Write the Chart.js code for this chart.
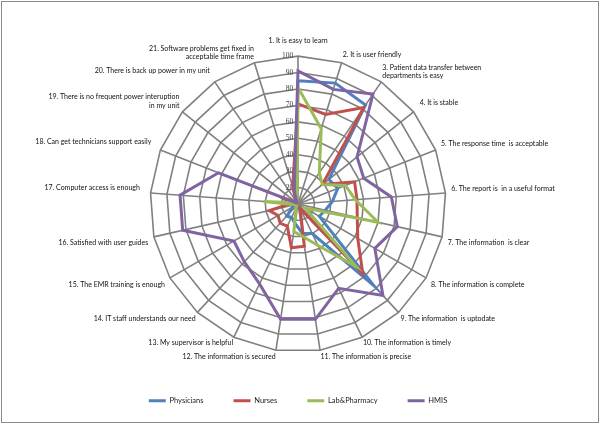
<!DOCTYPE html>
<html>
<head>
<meta charset="utf-8">
<script src="https://cdn.jsdelivr.net/npm/chart.js@4/dist/chart.umd.min.js"></script>
<style>
  html, body { margin: 0; padding: 0; background: #fff; }
  #wrap { position: relative; width: 600px; height: 424px; }
  #frame { position: absolute; left: 1px; top: 1px; width: 596px; height: 420px; border: 1px solid #8c8c8c; pointer-events: none; }
</style>
</head>
<body>
<div id="wrap">
  <canvas id="radarChart" width="600" height="424"></canvas>
  <div id="frame"></div>
</div>
<script>
const categories = [
  '1. It is easy to learn',
  '2. It is user friendly',
  ['3. Patient data transfer between', 'departments is easy'],
  '4. It is stable',
  '5. The response time  is acceptable',
  '6. The report is  in a useful format',
  '7. The information  is clear',
  '8. The information is complete',
  '9. The information  is uptodate',
  '10. The information is timely',
  '11. The information is precise',
  '12. The information is secured',
  '13. My supervisor is helpful',
  '14. IT staff understands our need',
  '15. The EMR training is enough',
  '16. Satisfied with user guides',
  '17. Computer access is enough',
  '18. Can get technicians support easily',
  ['19. There is no frequent power interuption', 'in my unit'],
  '20. There is back up power in my unit',
  ['21. Software problems get fixed in', 'acceptable time frame']
];

const physicians  = [85, 87, 83, 34, 36, 31, 27, 25, 78, 30, 28, 22, 19, 20, 14, 13, 12, 12, 11, 11, 14];
const nurses      = [71, 67, 81, 29, 47, 46, 47, 52, 68, 13, 36, 37, 25, 26, 24, 28, 14, 20, 12, 12, 21];
const labPharmacy = [81, 58, 33, 29, 41, 45, 60, 15, 62, 38, 30, 27, 13, 11, 11, 12, 31, 12, 11, 11, 12];
const hmis        = [91, 83, 91, 56, 53, 67, 72, 64, 86, 67, 81, 81, 64, 58, 55, 82, 82, 62, 11, 11, 18];

const tickValues = [10, 20, 30, 40, 50, 60, 70, 80, 90, 100];

// gap between the outer ring and each category label (Excel sits them closer top and bottom)
const labelGap = [5, -2, -4, 2, 0, 0, 0, 0, -3, -4, -3, -3, -4, -3, 0, 0, 5, 4, -2, 3, -4];

function series(label, data, color, order) {
  return {
    label: label,
    data: data,
    borderColor: color,
    backgroundColor: color,
    borderWidth: 3,
    pointRadius: 0,
    pointHoverRadius: 0,
    fill: false,
    tension: 0,
    order: order
  };
}

const ctx = document.getElementById('radarChart').getContext('2d');
const radarChart = new Chart(ctx, {
  type: 'radar',
  data: {
    labels: categories,
    datasets: [
      series('Physicians', physicians, '#4f81bd', 3),
      series('Nurses', nurses, '#c0504d', 2),
      series('Lab&Pharmacy', labPharmacy, '#9bbb59', 1),
      series('HMIS', hmis, '#8064a2', 0)
    ]
  },
  options: {
    responsive: false,
    animation: false,
    layout: {
      padding: { top: 33, bottom: 9.5, left: 0, right: 4 }
    },
    plugins: {
      tooltip: { enabled: false },
      legend: {
        position: 'bottom',
        labels: {
          usePointStyle: true,
          pointStyle: 'line',
          pointStyleWidth: 17,
          padding: 30,
          color: '#222',
          font: { family: 'Lato', size: 7.5 },
          // keep the series order even though HMIS is drawn on top
          sort: (a, b) => a.datasetIndex - b.datasetIndex
        }
      }
    },
    scales: {
      r: {
        min: 10,
        max: 100,
        beginAtZero: false,
        // put a copy of the first tick in front, so the "10" label at the centre is drawn
        afterBuildTicks: scale => {
          scale.ticks = [tickValues[0]].concat(tickValues).map(v => ({ value: v }));
        },
        ticks: {
          stepSize: 10,
          showLabelBackdrop: false,
          color: '#404040',
          font: { family: 'Liberation Serif', size: 7.5 },
          // trailing spaces push the centred text to the left of the axis
          callback: v => String(v) + ' '.repeat(v >= 100 ? 11 : 9)
        },
        grid: { color: '#808080', lineWidth: 1.6 },
        angleLines: { color: '#808080', lineWidth: 1.6 },
        pointLabels: {
          padding: c => labelGap[c.index],
          color: '#111',
          font: { family: 'Lato', size: 7 }
        }
      }
    }
  }
});
</script>
</body>
</html>
